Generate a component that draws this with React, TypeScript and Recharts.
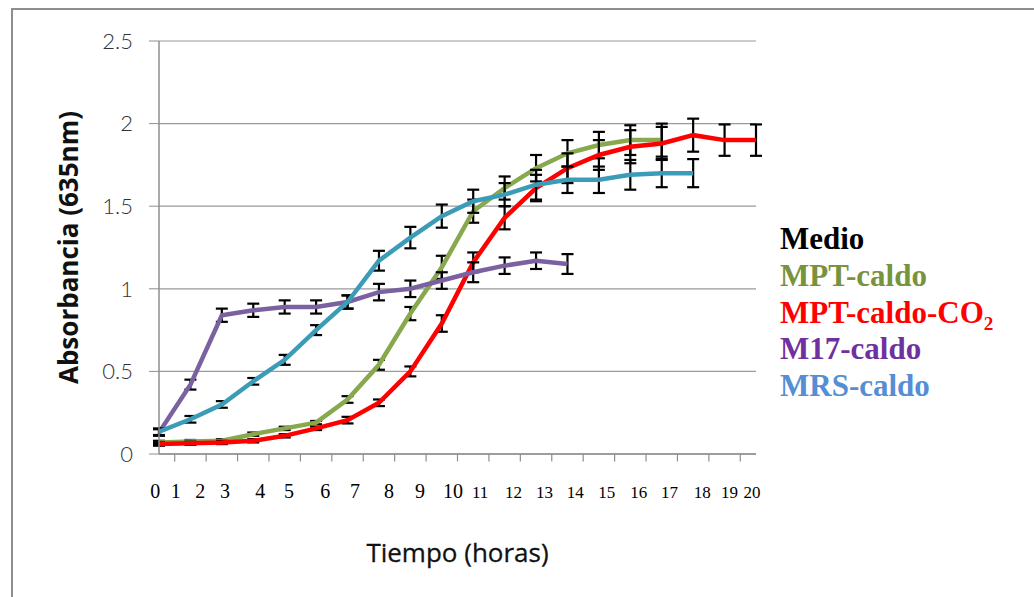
import { LineChart, Line, XAxis, YAxis, CartesianGrid, ErrorBar, Legend, Label, ReferenceLine } from 'recharts';

// sampling points (evenly spaced on the category axis)
const pointIdx = [0, 1, 2, 3, 4, 5, 6, 7, 8, 9, 10, 11, 12, 13, 14, 15, 16, 17, 18, 19];

// hour labels and where they sit along the point axis
const hourLabels = ['0', '1', '2', '3', '4', '5', '6', '7', '8', '9', '10', '11', '12', '13', '14', '15', '16', '17', '18', '19', '20'];
const hourLabelPos = [-0.12, 0.53, 1.31, 2.1, 3.22, 4.14, 5.29, 6.24, 7.32, 8.31, 9.36, 10.22, 11.28, 12.27, 13.25, 14.25, 15.27, 16.25, 17.29, 18.16, 18.87];
const tickMarks = [0.5, 1.5, 2.5, 3.5, 4.5, 5.5, 6.5, 7.5, 8.5, 9.5, 10.5, 11.5, 12.5, 13.5, 14.5, 15.5, 16.5, 17.5, 18.5];
const yTicks = [0, 0.5, 1, 1.5, 2, 2.5];

const mptCaldo = [0.07, 0.075, 0.08, 0.12, 0.155, 0.19, 0.33, 0.54, 0.85, 1.13, 1.47, 1.61, 1.73, 1.82, 1.87, 1.9, 1.9];
const mptCaldoErr = [0.01, 0.01, 0.01, 0.01, 0.01, 0.01, 0.02, 0.03, 0.04, 0.07, 0.07, 0.07, 0.08, 0.08, 0.08, 0.09, 0.1];

const mptCo2 = [0.06, 0.065, 0.07, 0.08, 0.11, 0.155, 0.205, 0.31, 0.5, 0.79, 1.16, 1.43, 1.61, 1.73, 1.81, 1.86, 1.88, 1.93, 1.9, 1.9];
const mptCo2Err = [0.01, 0.01, 0.01, 0.01, 0.01, 0.01, 0.02, 0.02, 0.03, 0.05, 0.06, 0.07, 0.08, 0.09, 0.09, 0.1, 0.1, 0.1, 0.095, 0.095];

const m17 = [0.13, 0.42, 0.84, 0.87, 0.89, 0.89, 0.92, 0.98, 1.0, 1.05, 1.1, 1.14, 1.17, 1.15];
const m17Err = [0.02, 0.03, 0.04, 0.04, 0.04, 0.04, 0.04, 0.05, 0.05, 0.05, 0.06, 0.05, 0.05, 0.06];

const mrs = [0.135, 0.21, 0.3, 0.44, 0.57, 0.75, 0.92, 1.17, 1.31, 1.44, 1.53, 1.57, 1.63, 1.66, 1.66, 1.69, 1.7, 1.7];
const mrsErr = [0.02, 0.02, 0.02, 0.02, 0.03, 0.03, 0.04, 0.06, 0.065, 0.07, 0.07, 0.07, 0.09, 0.08, 0.08, 0.09, 0.085, 0.085];

const rows = (vals: number[], errs: number[]) =>
  vals.map((v, i) => ({ idx: pointIdx[i], value: v, err: errs[i] }));

const series = [
  { name: 'MPT-caldo', data: rows(mptCaldo, mptCaldoErr), line: '#88A84E', text: '#77933C' },
  { name: 'MPT-caldo-CO2', data: rows(mptCo2, mptCo2Err), line: '#FF0000', text: '#FF0000' },
  { name: 'M17-caldo', data: rows(m17, m17Err), line: '#7A62A0', text: '#7030A0' },
  { name: 'MRS-caldo', data: rows(mrs, mrsErr), line: '#3C9CB8', text: '#558ED5' },
];

const HourTick = (props: any) => {
  const { x, y, payload } = props;
  let i = hourLabelPos.findIndex((p) => Math.abs(p - payload.value) < 1e-6);
  if (i < 0) i = props.index;
  const label = hourLabels[i];
  const big = i <= 10;
  return (
    <text
      x={x}
      y={y + 44}
      textAnchor="middle"
      fontFamily="'Liberation Serif', serif"
      fontSize={big ? 20 : 17}
      fill="#000"
    >
      {label}
    </text>
  );
};

const renderLegend = () => (
  <div style={{ fontFamily: "'Liberation Serif', serif", fontWeight: 'bold', fontSize: 31, lineHeight: '36.8px', whiteSpace: 'nowrap', textAlign: 'left' }}>
    <div style={{ color: '#000' }}>Medio</div>
    {series.map((s) => (
      <div key={s.name} style={{ color: s.text }}>
        {s.name === 'MPT-caldo-CO2' ? (
          <>
            MPT-caldo-CO<sub style={{ fontSize: '0.62em', lineHeight: 0 }}>2</sub>
          </>
        ) : (
          s.name
        )}
      </div>
    ))}
  </div>
);

export default function App() {
  return (
    <div style={{ position: 'absolute', left: 0, top: 0, width: 1034, height: 597, overflow: 'hidden', background: '#fff' }}>
      <div style={{ position: 'absolute', left: 11, top: 8, width: 1100, height: 700, border: '2px solid #8e8e8e' }} />
      <div style={{ position: 'absolute', left: 0, top: 0 }}>
        <LineChart width={1034} height={597} margin={{ top: 41, right: 278, bottom: 0, left: 0 }}>
          <CartesianGrid vertical={false} stroke="#9a9a9a" strokeWidth={1.2} />
          <XAxis
            dataKey="idx"
            type="number"
            domain={[0, 19]}
            allowDataOverflow
            ticks={hourLabelPos}
            tick={<HourTick />}
            tickLine={false}
            tickSize={0}
            tickMargin={0}
            axisLine={{ stroke: '#8e8e8e', strokeWidth: 1.5 }}
            height={143}
            interval={0}
          >
            <Label
              value="Tiempo (horas)"
              position="insideBottom"
              offset={35}
              style={{ fontFamily: "'Open Sans', sans-serif", fontSize: 26, fill: '#111', stroke: '#111', strokeWidth: 0.3 }}
            />
          </XAxis>
          <YAxis
            type="number"
            domain={[0, 2.5]}
            ticks={yTicks}
            width={159}
            tickSize={10}
            tickMargin={16}
            tickLine={{ stroke: '#8e8e8e' }}
            axisLine={{ stroke: '#8e8e8e', strokeWidth: 1.5 }}
            tick={{ fontFamily: 'Lato, sans-serif', fontWeight: 300, fontSize: 22, fill: '#333' }}
          >
            <Label
              content={(p: any) => {
                const vb = p.viewBox;
                const cx = vb.x + 68;
                const cy = vb.y + vb.height / 2;
                return (
                  <text
                    x={cx}
                    y={cy}
                    transform={`rotate(-90, ${cx}, ${cy})`}
                    textAnchor="middle"
                    dominantBaseline="central"
                    fontFamily="'Open Sans', sans-serif"
                    fontWeight="bold"
                    fontSize={26}
                    fill="#111"
                  >
                    Absorbancia (635nm)
                  </text>
                );
              }}
            />
          </YAxis>
          {tickMarks.map((t) => (
            <ReferenceLine
              key={t}
              segment={[{ x: t, y: 0 }, { x: t, y: -0.045 }]}
              stroke="#8e8e8e"
              strokeWidth={1.2}
              ifOverflow="visible"
            />
          ))}
          {series.map((s) => (
            <Line
              key={s.name}
              data={s.data}
              dataKey="value"
              name={s.name}
              type="linear"
              stroke={s.line}
              strokeWidth={4.5}
              dot={false}
              activeDot={false}
              isAnimationActive={false}
            >
              <ErrorBar dataKey="err" direction="y" width={6} stroke="#000" strokeWidth={2.2} />
            </Line>
          ))}
          <Legend
            content={renderLegend}
            layout="vertical"
            verticalAlign="middle"
            align="center"
            wrapperStyle={{ left: 780, top: 221, width: 250 }}
          />
        </LineChart>
      </div>
    </div>
  );
}
